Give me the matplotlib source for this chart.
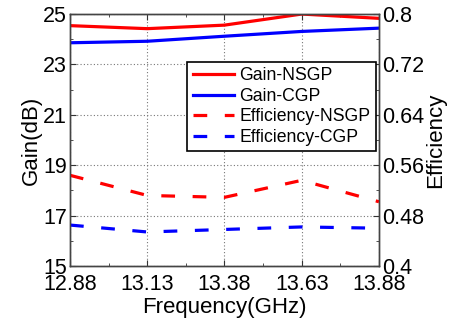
import matplotlib
matplotlib.use("Agg")
import matplotlib.pyplot as plt
from matplotlib.ticker import AutoMinorLocator

plt.rcParams['font.family'] = ['Liberation Sans', 'DejaVu Sans']

freq = [12.88, 13.13, 13.38, 13.63, 13.88]
freq_labels = ["12.88", "13.13", "13.38", "13.63", "13.88"]
gain_nsgp = [24.54, 24.42, 24.56, 25.00, 24.83]
gain_cgp = [23.86, 23.92, 24.12, 24.31, 24.44]
eff_nsgp = [0.544, 0.512, 0.509, 0.536, 0.502]
eff_cgp = [0.465, 0.454, 0.458, 0.462, 0.460]

fig = plt.figure(figsize=(4.53, 3.23), dpi=100)
ax = fig.add_axes([0.1545, 0.1765, 0.682, 0.78])
ax2 = ax.twinx()

lw = 2.3
l1, = ax.plot(freq, gain_nsgp, color='#ff0000', lw=lw, label='Gain-NSGP')
l2, = ax.plot(freq, gain_cgp, color='#0000ff', lw=lw, label='Gain-CGP')
l3, = ax2.plot(freq, eff_nsgp, color='#ff0000', lw=lw, dashes=(4.3, 5.5), label='Efficiency-NSGP')
l4, = ax2.plot(freq, eff_cgp, color='#0000ff', lw=lw, dashes=(4.3, 5.5), label='Efficiency-CGP')

ax.set_xlim(12.88, 13.88)
ax.set_ylim(15, 25)
ax2.set_ylim(0.4, 0.8)
ax.set_xticks(freq)
ax.set_xticklabels(freq_labels)
ax.set_yticks([15, 17, 19, 21, 23, 25])
ax2.set_yticks([0.4, 0.48, 0.56, 0.64, 0.72, 0.8])
ax2.set_yticklabels(["0.4", "0.48", "0.56", "0.64", "0.72", "0.8"])
ax.xaxis.set_minor_locator(AutoMinorLocator(2))
ax.yaxis.set_minor_locator(AutoMinorLocator(2))
ax2.yaxis.set_minor_locator(AutoMinorLocator(2))

ax.grid(True, which='major', linestyle=(0, (1, 2)), color='#777777', lw=0.8)

for a in (ax, ax2):
    a.tick_params(which='both', direction='in', labelsize=15.5, colors='#333333',
                  labelcolor='black', top=True)
    a.tick_params(which='major', length=4, pad=2)
    a.tick_params(which='minor', length=2.5)
    for s in a.spines.values():
        s.set_color('#444444')
        s.set_linewidth(1.0)
ax.tick_params(axis='y', right=False, which='both')
ax.tick_params(axis='x', which='major', pad=6)

ax.set_xlabel('Frequency(GHz)', fontsize=16, labelpad=1)
ax.set_ylabel('Gain(dB)', fontsize=16, labelpad=1)
ax2.set_ylabel('Efficiency', fontsize=16, labelpad=1)

leg = ax2.legend(handles=[l1, l2, l3, l4], loc='upper left',
                 bbox_to_anchor=(0.38, 0.81), fontsize=12.7, frameon=True,
                 fancybox=False, edgecolor='black', framealpha=1,
                 handlelength=2.35, handletextpad=0.3, labelspacing=0.2,
                 borderpad=0.3, borderaxespad=0)
leg.get_frame().set_linewidth(1.2)

fig.savefig('out.png', dpi=100)
